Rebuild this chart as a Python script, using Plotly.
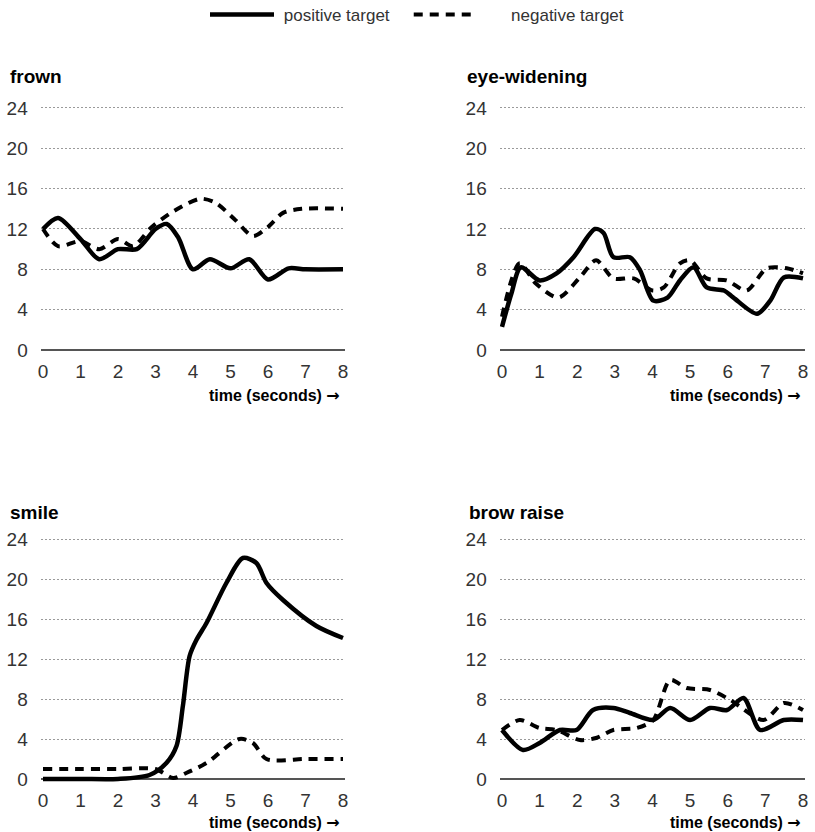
import plotly.graph_objects as go

# ---------------- data ----------------
panel_titles = ["frown", "eye-widening", "smile", "brow raise"]
y_tick_vals = [0, 4, 8, 12, 16, 20, 24]
x_tick_vals = [0, 1, 2, 3, 4, 5, 6, 7, 8]
x_axis_label = "time (seconds)"
series_names = ["positive target", "negative target"]

frown_pos_t = [0, 0.4, 1.0, 1.5, 2.0, 2.5, 3.0, 3.3, 3.6, 4.0, 4.45, 5.0, 5.5, 6.0, 6.55, 7.0, 8.0]
frown_pos_v = [12, 13.1, 11, 9, 10, 10, 12, 12.5, 11.2, 8, 9, 8.1, 9, 7, 8.1, 8, 8]
frown_neg_t = [0, 0.4, 1.0, 1.5, 2.0, 2.4, 2.9, 3.5, 4.2, 4.6, 5.1, 5.6, 6.0, 6.4, 6.9, 8.0]
frown_neg_v = [12, 10.3, 10.8, 10, 11, 10.3, 12.2, 13.8, 15, 14.6, 13, 11.3, 12.2, 13.6, 14, 14]

eye_pos_t = [0, 0.25, 0.5, 1.0, 1.45, 1.9, 2.47, 2.7, 2.96, 3.4, 3.67, 4.02, 4.4, 4.73, 5.09, 5.44, 5.9, 6.15, 6.78, 7.13, 7.49, 8.0]
eye_pos_v = [2.3, 5.6, 8.2, 6.9, 7.6, 9.2, 12.0, 11.6, 9.2, 9.2, 7.9, 4.9, 5.2, 6.9, 8.2, 6.2, 5.9, 5.2, 3.6, 4.9, 7.2, 7.1]
eye_neg_t = [0, 0.47, 0.9, 1.5, 2.07, 2.5, 2.96, 3.5, 4.0, 4.3, 4.73, 5.0, 5.44, 5.98, 6.5, 7.04, 7.57, 8.0]
eye_neg_v = [3.3, 8.6, 6.6, 5.2, 7.2, 8.9, 7.1, 7.1, 5.9, 6.2, 8.6, 8.9, 7.1, 6.9, 5.9, 8.1, 8.1, 7.6]

smile_pos_t = [0, 1.0, 2.0, 2.84, 3.29, 3.56, 3.73, 3.91, 4.09, 4.36, 4.89, 5.33, 5.69, 5.96, 6.4, 7.29, 8.0]
smile_pos_v = [0, 0, 0, 0.4, 1.6, 3.3, 7.3, 12.3, 13.9, 15.6, 19.6, 22.1, 21.6, 19.6, 17.9, 15.3, 14.1]
smile_neg_t = [0, 1.0, 2.0, 3.0, 3.47, 3.82, 4.36, 5.24, 5.6, 5.96, 7.0, 8.0]
smile_neg_v = [1, 1, 1, 1, 0.1, 0.6, 1.6, 4.0, 3.6, 2.0, 2, 2]

brow_pos_t = [0, 0.56, 1.0, 1.54, 1.98, 2.42, 2.96, 3.4, 4.02, 4.47, 5.0, 5.53, 5.98, 6.42, 6.86, 7.49, 8.0]
brow_pos_v = [4.9, 2.9, 3.6, 4.9, 4.9, 6.9, 7.1, 6.6, 5.9, 7.1, 5.9, 7.1, 6.9, 8.1, 4.9, 5.9, 5.9]
brow_neg_t = [0, 0.47, 1.0, 1.45, 2.07, 2.5, 2.96, 3.58, 4.02, 4.47, 4.91, 5.53, 6.07, 6.95, 7.49, 8.0]
brow_neg_v = [4.9, 5.9, 5.1, 4.9, 3.9, 4.1, 4.9, 5.1, 5.9, 9.9, 9.1, 8.9, 7.9, 5.9, 7.6, 6.9]

panels = [
    (frown_pos_t, frown_pos_v, frown_neg_t, frown_neg_v),
    (eye_pos_t, eye_pos_v, eye_neg_t, eye_neg_v),
    (smile_pos_t, smile_pos_v, smile_neg_t, smile_neg_v),
    (brow_pos_t, brow_pos_v, brow_neg_t, brow_neg_v),
]

# ---------------- layout geometry (pixels) ----------------
W, H = 815, 832
FONT = "Liberation Sans, Arial, Helvetica, sans-serif"
# (x of value 0, x of value 8, y of value 24, y of value 0)
boxes = [
    (43, 343, 108, 350),
    (502, 803, 108, 350),
    (43, 343, 539, 779),
    (502, 803, 539, 779),
]
title_pos = [(8, 77), (465, 77), (8, 512), (467, 512)]
xlabel_pos = [(342, 395), (803, 395), (342, 822), (803, 822)]

XR = [-0.06, 8.06]
YR = [-0.8, 24.4]
NB = "\u00a0"
LEGEND_LABELS = [NB + series_names[0] + NB * 3, NB * 6 + series_names[1]]

fig = go.Figure()
layout = dict(
    width=W, height=H,
    margin=dict(l=0, r=0, t=0, b=0, autoexpand=False),
    paper_bgcolor="white", plot_bgcolor="white",
    font=dict(family=FONT, color="#333333"),
    showlegend=True,
    legend=dict(orientation="h", x=(213 - 8) / W, xanchor="left",
                y=1 - 15 / H, yanchor="middle",
                font=dict(size=17, color="#333333"), itemwidth=64,
                traceorder="normal"),
    annotations=[],
)

for i, (pt, pv, nt, nv) in enumerate(panels):
    x0, x1, y24, y0 = boxes[i]
    pxu = (x1 - x0) / 8.0
    pyu = (y0 - y24) / 24.0
    left = x0 + XR[0] * pxu
    right = x0 + XR[1] * pxu
    bottom = y0 - YR[0] * pyu
    top = y0 - YR[1] * pyu
    xa = "xaxis" if i == 0 else f"xaxis{i+1}"
    ya = "yaxis" if i == 0 else f"yaxis{i+1}"
    xr = "x" if i == 0 else f"x{i+1}"
    yr = "y" if i == 0 else f"y{i+1}"
    layout[xa] = dict(
        domain=[left / W, right / W], range=XR, anchor=yr, automargin=False,
        tickvals=x_tick_vals, ticktext=[str(v) for v in x_tick_vals],
        showgrid=False, zeroline=False, showline=False, ticks="",
        tickfont=dict(size=19, color="#333333"), fixedrange=True,
    )
    layout[ya] = dict(
        domain=[1 - bottom / H, 1 - top / H], range=YR, anchor=xr, automargin=False,
        tickvals=y_tick_vals, ticktext=[str(v) for v in y_tick_vals],
        showgrid=True, gridcolor="#9a9a9a", gridwidth=1, griddash="2px,2px",
        zeroline=True, zerolinecolor="#555555", zerolinewidth=2,
        showline=False, ticks="", ticklabelstandoff=12,
        tickfont=dict(size=19, color="#333333"), fixedrange=True,
    )
    fig.add_trace(go.Scatter(
        x=pt, y=pv, mode="lines", name=LEGEND_LABELS[0], xaxis=xr, yaxis=yr,
        line=dict(color="black", width=4.5, shape="spline", smoothing=0.8),
        showlegend=(i == 0), legendgroup="pos", hoverinfo="skip",
    ))
    fig.add_trace(go.Scatter(
        x=nt, y=nv, mode="lines", name=LEGEND_LABELS[1], xaxis=xr, yaxis=yr,
        line=dict(color="black", width=4, dash="9px,7px", shape="spline", smoothing=0.8),
        showlegend=(i == 0), legendgroup="neg", hoverinfo="skip",
    ))
    tx, ty = title_pos[i]
    layout["annotations"].append(dict(
        text=f"<b>{panel_titles[i]}</b>", xref="paper", yref="paper",
        x=tx / W, y=1 - ty / H, xanchor="left", yanchor="middle", showarrow=False,
        font=dict(size=19, color="black", family=FONT),
    ))
    lx, ly = xlabel_pos[i]
    layout["annotations"].append(dict(
        text=f"<b>{x_axis_label} <span style='font-family:DejaVu Sans'>\u2192</span></b>",
        xref="paper", yref="paper",
        x=lx / W, y=1 - ly / H, xanchor="right", yanchor="middle", showarrow=False,
        font=dict(size=16, color="black", family=FONT),
    ))

fig.update_layout(**layout)
fig.write_html("out.html")
